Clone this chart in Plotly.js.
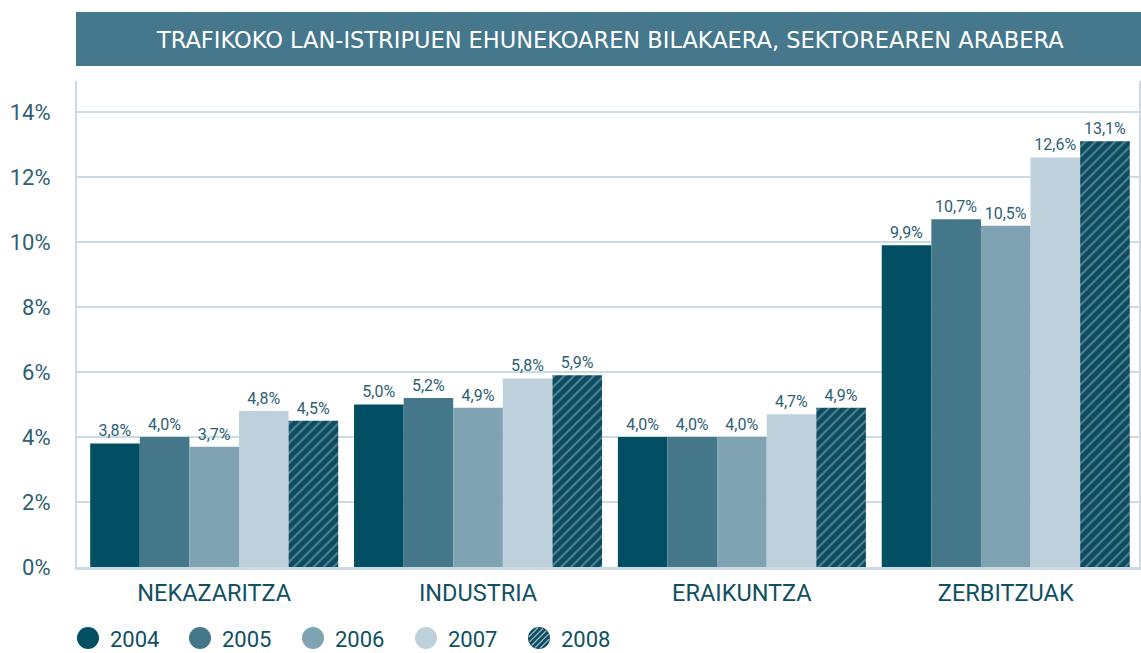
<!DOCTYPE html>
<html>
<head>
<meta charset="utf-8">
<script src="https://cdn.plot.ly/plotly-3.0.1.min.js"></script>
<style>html,body{margin:0;padding:0;background:#fff;}#chart{width:1141px;height:653px;}</style>
</head>
<body>
<div id="chart"></div>
<script>
// ---- data ----
const sectors = ["NEKAZARITZA", "INDUSTRIA", "ERAIKUNTZA", "ZERBITZUAK"];
const years = ["2004", "2005", "2006", "2007", "2008"];
const v2004 = [3.8, 5.0, 4.0, 9.9];
const v2005 = [4.0, 5.2, 4.0, 10.7];
const v2006 = [3.7, 4.9, 4.0, 10.5];
const v2007 = [4.8, 5.8, 4.7, 12.6];
const v2008 = [4.5, 5.9, 4.9, 13.1];
const yTicks = [0, 2, 4, 6, 8, 10, 12, 14];
const chartTitle = "TRAFIKOKO LAN-ISTRIPUEN EHUNEKOAREN BILAKAERA, SEKTOREAREN ARABERA";

// ---- styling ----
const series = [v2004, v2005, v2006, v2007, v2008];
const colors = ["#024e62", "#45778b", "#7fa3b3", "#bdd0db", "#0b4c60"];
const textColor = "#2c6074";
const darkText = "#0f5063";
const gridColor = "#cbdbe3";
const FONT = "Roboto, 'DejaVu Sans', sans-serif";
const TITLE_FONT = "'DejaVu Sans', Roboto, sans-serif";

const W = 1141, H = 653;
const M = {l: 77, r: 2, t: 81, b: 86};
const pw = W - M.l - M.r, ph = H - M.t - M.b;
const px = x => (x - M.l) / pw;
const py = y => (H - M.b - y) / ph;

const fmt = v => v.toFixed(1).replace('.', ',') + '%';

const traces = series.map((vals, i) => {
  const t = {
    type: 'bar',
    name: years[i],
    x: sectors,
    y: vals,
    text: vals.map(fmt),
    textposition: 'outside',
    textfont: {family: FONT, size: 16, color: textColor},
    cliponaxis: false,
    constraintext: 'none',
    marker: {color: colors[i], line: {width: 0}},
    hoverinfo: 'x+y+name',
    showlegend: false
  };
  if (i === 4) {
    t.marker.pattern = {shape: '/', fgcolor: '#9fbac7', size: 7, solidity: 0.28, fillmode: 'overlay'};
  }
  return t;
});

const shapes = [];
const annotations = [];

// title banner
shapes.push({type: 'rect', xref: 'paper', yref: 'paper', x0: px(76), x1: px(1141), y0: py(66), y1: py(12),
  fillcolor: '#45788c', line: {width: 0}, layer: 'above'});
annotations.push({xref: 'paper', yref: 'paper', x: px(610), y: py(40), text: chartTitle, showarrow: false,
  xanchor: 'center', yanchor: 'middle', font: {family: TITLE_FONT, size: 22.5, color: '#ffffff'}});

// custom legend
const legX = [88, 200, 313, 426, 539];
const legY = 638, R = 11;
years.forEach((yr, i) => {
  const cx = legX[i];
  shapes.push({type: 'circle', xref: 'paper', yref: 'paper', xsizemode: 'pixel', ysizemode: 'pixel',
    xanchor: px(cx), yanchor: py(legY), x0: -R, x1: R, y0: -R, y1: R,
    fillcolor: colors[i], line: {width: 0}});
  if (i === 4) {
    [-8, -4, 0, 4, 8].forEach(d => {
      const h = Math.sqrt(R * R - d * d) - 0.8;
      const ox = d / Math.SQRT2, oy = -d / Math.SQRT2;
      const dx = h / Math.SQRT2, dy = h / Math.SQRT2;
      shapes.push({type: 'line', xref: 'paper', yref: 'paper', xsizemode: 'pixel', ysizemode: 'pixel',
        xanchor: px(cx), yanchor: py(legY), x0: ox - dx, x1: ox + dx, y0: oy - dy, y1: oy + dy,
        line: {color: '#9fbac7', width: 1.3}});
    });
  }
  annotations.push({xref: 'paper', yref: 'paper', x: px(cx + 20), y: py(legY + 1), text: yr, showarrow: false,
    xanchor: 'left', yanchor: 'middle', font: {family: FONT, size: 22, color: darkText}});
});

const layout = {
  width: W, height: H,
  margin: M,
  paper_bgcolor: '#ffffff', plot_bgcolor: '#ffffff',
  barmode: 'group', bargap: 0.06, bargroupgap: 0,
  font: {family: FONT, color: textColor},
  showlegend: false,
  xaxis: {
    type: 'category', range: [-0.52, 3.505],
    showline: true, linecolor: gridColor, linewidth: 2.5,
    showgrid: false, ticks: '', ticklabelstandoff: 3,
    tickfont: {family: FONT, size: 23.5, color: darkText},
    fixedrange: true
  },
  yaxis: {
    range: [0, 14.95], tickvals: yTicks, ticktext: yTicks.map(v => v + '%'),
    showline: true, mirror: true, linecolor: gridColor, linewidth: 2,
    showgrid: true, gridcolor: gridColor, gridwidth: 1.6, zeroline: false,
    ticks: '', ticklabelstandoff: 20,
    tickfont: {family: FONT, size: 22, color: textColor},
    fixedrange: true
  },
  shapes: shapes,
  annotations: annotations
};

Plotly.newPlot('chart', traces, layout, {displayModeBar: false, staticPlot: true});
</script>
</body>
</html>
